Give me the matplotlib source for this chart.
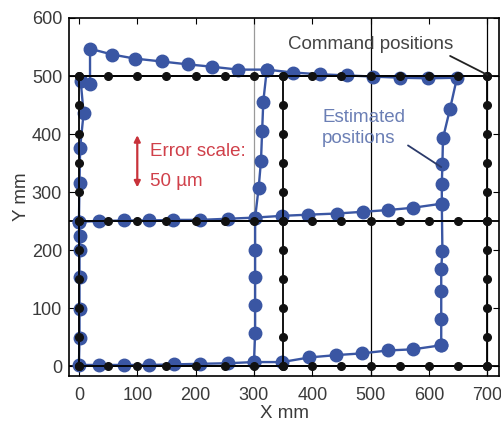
import numpy as np
import matplotlib
matplotlib.use('Agg')
import matplotlib.pyplot as plt

plt.rcParams['font.family'] = ['Liberation Sans', 'DejaVu Sans']

# command grid (mm)
cmd_x_lines = [0, 350, 700]
cmd_y_lines = [0, 250, 500]
cmd_step = 50

# estimated positions (mm)
outer_x = [621, 573, 530, 485, 441, 395, 348, 300, 255, 207, 163, 120, 77, 35, 0,
           1, 1, 1, 1, 2, 0, 1, 2, 8, 3, 19, 19,
           57, 96, 142, 187, 228, 273, 322, 367, 413, 460, 504, 551, 599, 648,
           636, 624, 623, 622, 622, 623, 621, 621, 621, 621]
outer_y = [36, 29, 27, 22, 19, 15, 7, 7, 5, 4, 3, 2, 2, 2, 2,
           48, 99, 153, 200, 225, 249, 316, 376, 436, 491, 487, 547,
           537, 530, 525, 520, 516, 511, 511, 506, 503, 501, 499, 497, 496, 497,
           443, 393, 348, 314, 280, 199, 168, 130, 82, 36]
mid_row_x = [0, 35, 77, 120, 162, 207, 255, 302, 348, 393, 442, 487, 530, 573, 622]
mid_row_y = [249, 250, 251, 251, 252, 252, 254, 256, 259, 261, 263, 266, 269, 273, 280]
mid_col_x = [322, 316, 314, 312, 308, 302, 302, 302, 302, 302, 300]
mid_col_y = [511, 456, 405, 353, 307, 256, 200, 153, 105, 57, 7]

blue = '#3a56a3'

fig = plt.figure(figsize=(5.02, 4.28), dpi=100)
ax = fig.add_axes([0.1375, 0.1215, 0.8565, 0.8365])

# background reference lines
ax.axvline(300, color='#9a9a9a', lw=0.9, zorder=1)
ax.axvline(500, color='black', lw=0.9, zorder=1)
ax.axvline(700, color='black', lw=0.9, zorder=1)
for yl in cmd_y_lines:
    ax.axhline(yl, color='black', lw=1.3, zorder=1)

# estimated path
kw = dict(color=blue, lw=1.7, marker='o', ms=9, mfc=blue, mec=blue, zorder=2)
ax.plot(outer_x, outer_y, **kw)
ax.plot(mid_row_x, mid_row_y, **kw)
ax.plot(mid_col_x, mid_col_y, **kw)

# command path
for xl in cmd_x_lines:
    ys = np.arange(0, 501, cmd_step)
    ax.plot([xl] * len(ys), ys, color='black', lw=1.3, marker='o', ms=5.5,
            mfc='#111111', mec='#111111', zorder=3)
for yl in cmd_y_lines:
    xs = np.arange(0, 701, cmd_step)
    ax.plot(xs, [yl] * len(xs), color='black', lw=1.3, marker='o', ms=5.5,
            mfc='#111111', mec='#111111', zorder=3)

# annotations
ax.annotate('Command positions', xy=(700, 502), xytext=(641, 554),
            ha='right', va='center', fontsize=13.5, color='#444444',
            arrowprops=dict(arrowstyle='-', color='#222222', lw=1.3,
                            shrinkA=0, shrinkB=0, relpos=(0.95, 0.0)))
ax.annotate('Estimated\npositions', xy=(621, 343), xytext=(417, 411),
            ha='left', va='center', fontsize=13.5, color='#6b7fb5',
            linespacing=1.3,
            arrowprops=dict(arrowstyle='-', color='#2b3a6a', lw=1.3,
                            shrinkA=0, shrinkB=0, relpos=(0.95, 0.15)))
ax.annotate('', xy=(100, 398), xytext=(100, 308),
            arrowprops=dict(arrowstyle='<|-|>', color='#c8323a', lw=1.6,
                            mutation_scale=9, shrinkA=0, shrinkB=0))
ax.text(122, 370, 'Error scale:', fontsize=13.5, color='#d0404a',
        ha='left', va='center')
ax.text(122, 319, '50 µm', fontsize=13.5, color='#d0404a',
        ha='left', va='center')

ax.set_xlim(-17, 720)
ax.set_ylim(-17, 600)
ax.set_xticks(np.arange(0, 701, 100))
ax.set_yticks(np.arange(0, 601, 100))
ax.tick_params(direction='in', top=True, right=True, length=4,
               labelsize=13, labelcolor='#3a3a3a')
ax.tick_params(axis='x', pad=8)
ax.tick_params(axis='y', pad=5)
for s in ax.spines.values():
    s.set_linewidth(1.2)
ax.set_xlabel('X mm', fontsize=13.5, color='#3a3a3a', labelpad=1)
ax.set_ylabel('Y mm', fontsize=13.5, color='#3a3a3a', labelpad=1)

fig.savefig('out.png', dpi=100)
